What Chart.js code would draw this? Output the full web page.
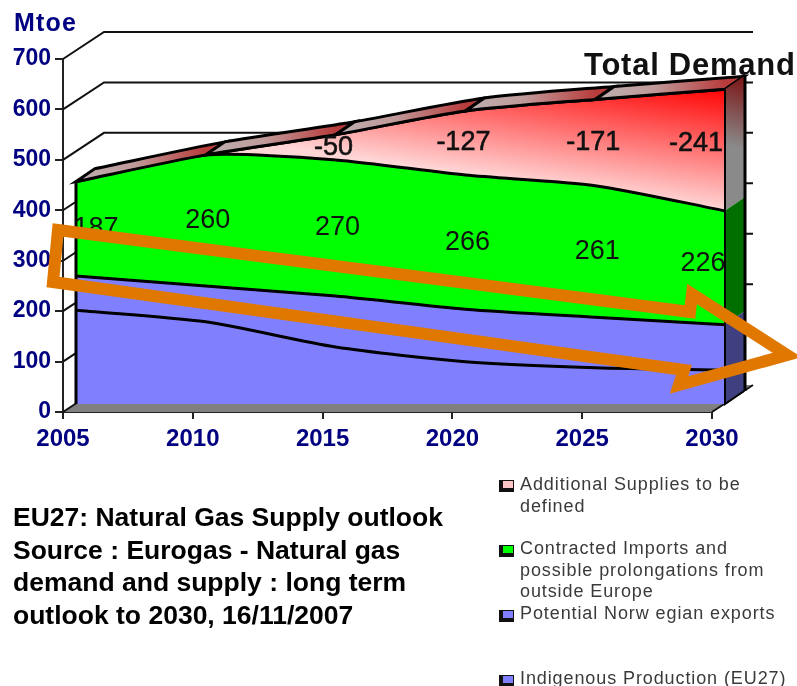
<!DOCTYPE html>
<html>
<head>
<meta charset="utf-8">
<script src="https://cdn.jsdelivr.net/npm/chart.js@4"></script>
<style>
html,body{margin:0;padding:0;background:#fff;width:797px;height:686px;overflow:hidden;font-family:"Liberation Sans",Arial,sans-serif}
#c{position:absolute;left:0;top:0;width:797px;height:686px;filter:blur(.45px)}
.t{position:absolute;white-space:nowrap;filter:blur(.35px)}
svg{position:absolute;left:0;top:0}
.lg{color:#3a3a3a;font-size:18px;letter-spacing:.9px;line-height:21.5px}
.mk{position:absolute;width:10px;height:7px;border:1px solid #111;border-left-width:4px;border-bottom-width:4px}
</style>
</head>
<body>
<canvas id="c" width="797" height="686"></canvas>
<svg width="797" height="686"><polygon points="58,230 690,312 692,294 787,355 679,385 684,370 53,282" fill="none" stroke="#e07800" stroke-width="12" stroke-linejoin="miter" stroke-miterlimit="6"/></svg>
<div class="t" style="left:14px;top:8px;font-size:25px;font-weight:bold;color:#000080;letter-spacing:1.2px">Mtoe</div>
<div class="t" style="left:584px;top:47px;font-size:31px;font-weight:bold;color:#111;letter-spacing:.75px">Total Demand</div>
<div class="t" style="left:13px;top:501px;font-size:26.5px;font-weight:bold;color:#000;line-height:32.5px">EU27: Natural Gas Supply outlook<br>Source : Eurogas - Natural gas<br>demand and supply : long term<br>outlook to 2030, 16/11/2007</div>
<div class="mk" style="left:499px;top:480px;background:#ffc4c4"></div>
<div class="t lg" style="left:520px;top:474px">Additional Supplies to be<br>defined</div>
<div class="mk" style="left:499px;top:545px;background:#00ff00"></div>
<div class="t lg" style="left:520px;top:538px">Contracted Imports and<br>possible prolongations from<br>outside Europe</div>
<div class="mk" style="left:499px;top:610px;background:#8080ff"></div>
<div class="t lg" style="left:520px;top:603px">Potential Norw egian exports</div>
<div class="mk" style="left:499px;top:675px;background:#8080ff"></div>
<div class="t lg" style="left:520px;top:668px">Indigenous Production (EU27)</div>
<script>
const years = ['2005','2010','2015','2020','2025','2030'];
const indigenous = [186,163,113,84,72,67];
const norwegian = [68,71,101,104,100,90];
const contracted = [187,260,270,266,261,226];
const additional = [0,0,50,127,171,241];
const yTicks = [0,100,200,300,400,500,600,700];

const FRONT = {dx:13, dy:-8};
const DEPTH = {dx:19, dy:-13};
const BACK = {dx:41, dy:-27};
const INK = '#111';

function trace(ctx, pts, ox, oy, move){
  pts.forEach((p,i)=>{
    if(i===0){ move ? ctx.moveTo(p.x+ox,p.y+oy) : ctx.lineTo(p.x+ox,p.y+oy); return; }
    const q = pts[i-1];
    ctx.bezierCurveTo(q.cp2x+ox,q.cp2y+oy,p.cp1x+ox,p.cp1y+oy,p.x+ox,p.y+oy);
  });
}
function traceBack(ctx, pts, ox, oy){
  ctx.lineTo(pts[pts.length-1].x+ox, pts[pts.length-1].y+oy);
  for(let i=pts.length-2;i>=0;i--){
    const p=pts[i], q=pts[i+1];
    ctx.bezierCurveTo(q.cp1x+ox,q.cp1y+oy,p.cp2x+ox,p.cp2y+oy,p.x+ox,p.y+oy);
  }
}

const scene = {
  id:'scene',
  beforeDatasetsDraw(chart){
    const {ctx,scales:{x,y}} = chart;
    const x0=x.getPixelForValue(0), x1=x.getPixelForValue(years.length-1);
    ctx.save();
    const yb=y.getPixelForValue(0);
    // floor
    ctx.beginPath();
    ctx.moveTo(x0,yb);ctx.lineTo(x1,yb);ctx.lineTo(x1+BACK.dx,yb+BACK.dy);ctx.lineTo(x0+BACK.dx,yb+BACK.dy);ctx.closePath();
    ctx.fillStyle='#808080';ctx.fill();
    ctx.strokeStyle=INK;ctx.lineWidth=2;
    ctx.beginPath();ctx.moveTo(x1,yb);ctx.lineTo(x1+BACK.dx,yb+BACK.dy);ctx.moveTo(x0,yb);ctx.lineTo(x0+BACK.dx,yb+BACK.dy);ctx.stroke();
    // back wall grid
    yTicks.forEach(v=>{
      if(v===0) return;
      const py=y.getPixelForValue(v);
      ctx.beginPath();
      ctx.moveTo(x0,py);ctx.lineTo(x0+BACK.dx,py+BACK.dy);ctx.lineTo(x1+BACK.dx,py+BACK.dy);
      ctx.stroke();
    });
    ctx.restore();
    ctx.save();
    ctx.translate(FRONT.dx,FRONT.dy);
  },
  afterDatasetsDraw(chart){
    const {ctx,scales:{y}} = chart;
    ctx.restore();
    ctx.save();
    const ox=FRONT.dx, oy=FRONT.dy;
    const top=chart.getDatasetMeta(3).data, grn=chart.getDatasetMeta(2).data,
          nor=chart.getDatasetMeta(1).data;
    const n=top.length-1;
    const yb=y.getPixelForValue(0)+oy;
    // top ridge
    for(let i=0;i<n;i++){
      const a=top[i], b=top[i+1];
      const g=ctx.createLinearGradient(a.x+ox,0,b.x+ox,0);
      g.addColorStop(0,'#bdb0b0');g.addColorStop(.45,'#c09a9a');g.addColorStop(1,'#b83c3c');
      ctx.beginPath();
      trace(ctx,[a,b],ox,oy,true);
      traceBack(ctx,[a,b],ox+DEPTH.dx,oy+DEPTH.dy);
      ctx.closePath();
      ctx.fillStyle=g;ctx.fill();
      ctx.strokeStyle='#000';ctx.lineWidth=3;ctx.stroke();
    }
    // right side faces
    const R=top[n].x+ox;
    const face=(up,lo,fill)=>{
      ctx.beginPath();
      ctx.moveTo(R,up);ctx.lineTo(R+DEPTH.dx,up+DEPTH.dy);ctx.lineTo(R+DEPTH.dx,lo+DEPTH.dy);ctx.lineTo(R,lo);ctx.closePath();
      ctx.fillStyle=fill;ctx.fill();
    };
    const yT=top[n].y+oy,yG=grn[n].y+oy,yN=nor[n].y+oy;
    const sg=ctx.createLinearGradient(R+DEPTH.dx,yT+DEPTH.dy,R,yT+55);
    sg.addColorStop(0,'#7c1414');sg.addColorStop(1,'#8a8a8a');
    face(yT,yG,sg);
    face(yG,yN,'#006f00');
    face(yN,yb,'#404080');
    // edges
    ctx.strokeStyle='#000';
    ctx.lineWidth=3;
    ctx.beginPath();
    ctx.moveTo(top[0].x+ox,top[0].y+oy);ctx.lineTo(top[0].x+ox,yb);
    ctx.moveTo(R+DEPTH.dx+1,yT+DEPTH.dy);ctx.lineTo(R+DEPTH.dx+1,yb+DEPTH.dy);
    ctx.stroke();
    ctx.lineWidth=2;
    ctx.beginPath();
    ctx.moveTo(R,yT);ctx.lineTo(R,yb);ctx.lineTo(R+DEPTH.dx,yb+DEPTH.dy);
    ctx.stroke();
    // value labels
    ctx.font='27px "Liberation Sans", Arial, sans-serif';
    ctx.fillStyle='#111';ctx.textAlign='center';ctx.textBaseline='middle';
    const mid=(a,b,i)=>(a[i].y+b[i].y)/2+oy;
    const nudgeGreen=i=>i===0?20:(i===n?-22:2);
    const nudgeRed=i=>i===n?-29:-2;
    contracted.forEach((v,i)=>{
      ctx.save();
      ctx.beginPath();ctx.rect(top[0].x+ox+1,0,R-top[0].x-ox-1,chart.height);ctx.clip();
      ctx.fillText(String(v),grn[i].x+ox+nudgeGreen(i),mid(grn,nor,i)-(i===n?4:0));
      ctx.restore();
    });
    ctx.strokeStyle='#111';ctx.lineWidth=.6;
    additional.forEach((v,i)=>{
      if(v===0) return;
      const tx=top[i].x+ox+nudgeRed(i), ty=mid(top,grn,i)-(i===n?7:0);
      ctx.fillText('-'+v,tx,ty);
      ctx.strokeText('-'+v,tx,ty);
    });
    ctx.restore();
  }
};

const redFill = ctx => {
  const c=ctx.chart;
  const xs=c.scales.x, ys=c.scales.y;
  if(!c.chartArea||!xs||!ys) return '#ffc0c0';
  const last=years.length-1;
  const grnTop=indigenous[last]+norwegian[last]+contracted[last];
  const px=xs.getPixelForValue(last), lo=ys.getPixelForValue(grnTop), hi=ys.getPixelForValue(grnTop+additional[last]);
  if(![px,lo,hi].every(Number.isFinite)) return '#ffc0c0';
  const g=c.ctx.createLinearGradient(px,lo,px+(lo-hi)*0.143,hi);
  g.addColorStop(0,'#ffd6d6');g.addColorStop(1,'#ff0000');
  return g;
};
const base={pointRadius:0,pointHoverRadius:0,borderColor:'#000',borderWidth:3,tension:.25,clip:false};
new Chart(document.getElementById('c'),{
  type:'line',
  plugins:[scene],
  data:{labels:years,datasets:[
    {...base,label:'Indigenous Production (EU27)',data:indigenous,backgroundColor:'#8080ff',fill:'origin'},
    {...base,label:'Potential Norwegian exports',data:norwegian,backgroundColor:'#8080ff',fill:'-1'},
    {...base,label:'Contracted Imports and possible prolongations from outside Europe',data:contracted,backgroundColor:'#00ff00',fill:'-1'},
    {...base,label:'Additional Supplies to be defined',data:additional,backgroundColor:redFill,fill:'-1'}
  ]},
  options:{
    responsive:false,animation:false,devicePixelRatio:1,
    layout:{padding:{top:59,right:85,bottom:0,left:0}},
    plugins:{legend:{display:false},tooltip:{enabled:false},title:{display:false}},
    scales:{
      x:{type:'category',offset:false,
        border:{color:'#222',width:2},
        grid:{drawOnChartArea:false,color:'#222',tickLength:7,lineWidth:2},
        ticks:{color:'#000080',font:{family:'"Liberation Sans", Arial',size:24,weight:'bold'},autoSkip:false,maxRotation:0,padding:6},
        afterFit(s){s.height=274;s.paddingLeft=0;s.paddingRight=0;}
      },
      y:{stacked:true,min:0,max:700,
        border:{color:'#222',width:2},
        grid:{drawOnChartArea:false,color:'#222',tickLength:8,lineWidth:2},
        ticks:{stepSize:100,color:'#000080',font:{family:'"Liberation Sans", Arial',size:23,weight:'bold'},padding:4},
        afterFit(s){s.width=63;s.paddingTop=0;s.paddingBottom=0;}
      }
    }
  }
});
</script>
</body>
</html>
